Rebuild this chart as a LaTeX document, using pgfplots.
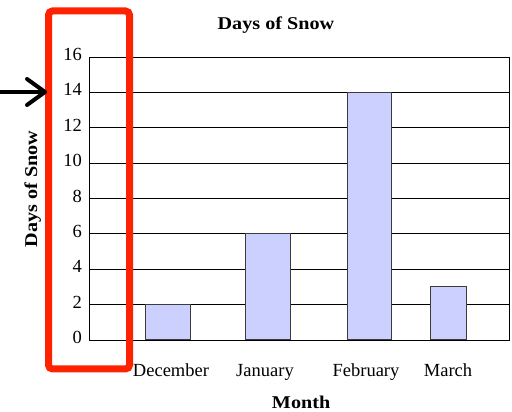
\documentclass[border=0pt]{standalone}
\usepackage{pgfplots}
\pgfplotsset{compat=1.18}
\usepackage{fontspec}
\setmainfont{Liberation Serif}
\newfontfamily\wideserif{Liberation Serif}[FakeStretch=1.12]
\definecolor{barfill}{RGB}{204,208,255}
\definecolor{barline}{RGB}{60,60,60}
\definecolor{markred}{RGB}{255,34,0}
\begin{document}
\begin{tikzpicture}[x=1pt,y=1pt]
\useasboundingbox (0,0) rectangle (512,412);
\begin{axis}[
  at={(89pt,72pt)}, anchor=south west,
  scale only axis, width=420pt, height=283pt,
  xmin=0, xmax=420, ymin=0, ymax=16,
  xtick={82,176,277,359},
  xticklabels={December,January,February,March},
  ytick={0,2,...,16},
  major tick length=0pt,
  ymajorgrids,
  grid style={black, line width=0.8pt},
  axis line style={black, line width=0.8pt},
  /pgf/number format/assume math mode=true,
  tick label style={font=\fontsize{18.5}{20}\selectfont, inner sep=0pt},
  xticklabel style={anchor=base, yshift=-37pt},
  yticklabel style={anchor=east, xshift=-7pt, yshift=2.5pt},
  title={Days of Snow},
  xlabel={Month},
  ylabel={Days of Snow},
  every axis title/.style={at={(axis description cs:0.445,1.0954)}, anchor=base, inner sep=0pt, font=\wideserif\bfseries\fontsize{18}{20}\selectfont},
  every axis x label/.style={at={(axis description cs:0.505,-0.2403)}, anchor=base, inner sep=0pt, font=\wideserif\bfseries\fontsize{18}{20}\selectfont},
  every axis y label/.style={at={(axis description cs:-0.1238,0.5336)}, anchor=base, rotate=90, inner sep=0pt, font=\wideserif\bfseries\fontsize{18}{20}\selectfont},
]
\addplot[ybar, bar width=44.5, bar shift=0pt, fill=barfill, draw=barline, line width=1pt]
  coordinates {(79,2) (179,6) (280.5,14)};
\addplot[ybar, bar width=36, bar shift=0pt, fill=barfill, draw=barline, line width=1pt]
  coordinates {(359,3)};
\end{axis}
\draw[markred, line width=7pt, rounded corners=4pt] (48.5,401) rectangle (129.5,43);
\draw[black, line width=4pt, line cap=round, line join=round] (0,320) -- (45,320);
\draw[black, line width=4pt, line cap=round, line join=round] (27,333) -- (45,320) -- (27,307);
\end{tikzpicture}
\end{document}
